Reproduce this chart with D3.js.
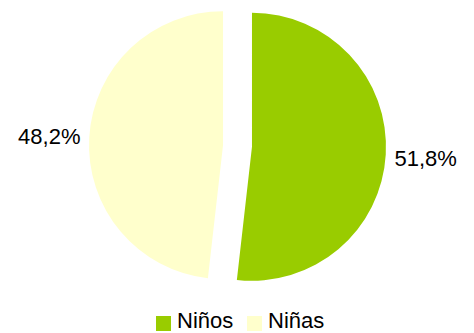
<!DOCTYPE html>
<html><head><meta charset="utf-8">
<script src="https://cdn.jsdelivr.net/npm/d3@7/dist/d3.min.js"></script>
<style>body{margin:0;background:#fff}svg{display:block}text{font-family:"Liberation Sans",Arial,sans-serif}</style>
</head><body>
<svg id="c" width="474" height="333"></svg>
<script>
const categories = ["Niños", "Niñas"];
const values = [51.8, 48.2];
const labels = ["51,8%", "48,2%"];
const colors = ["#99CC00", "#FFFFCC"];

const svg = d3.select("#c");
const cx = 237.5, cy = 146, r = 134, explode = 14.5;
const pie = d3.pie().sort(null).value(d => d.v);
const arcs = pie(categories.map((c, i) => ({c, v: values[i], i})));
const arc = d3.arc().innerRadius(0).outerRadius(r);
const g = svg.append("g").attr("transform", `translate(${cx},${cy})`);
arcs.forEach(a => {
  const mid = (a.startAngle + a.endAngle) / 2;
  const dx = explode * Math.sin(mid), dy = -explode * Math.cos(mid);
  const gg = g.append("g").attr("transform", `translate(${dx},${dy})`);
  gg.append("path").attr("d", arc(a)).attr("fill", colors[a.data.i]);
  const lr = r + 40;
  const lx = lr * Math.sin(mid), ly = -lr * Math.cos(mid);
  gg.append("text").attr("x", lx).attr("y", ly + 9)
    .attr("text-anchor", "middle").attr("font-size", 22).attr("fill", "#000")
    .text(labels[a.data.i]);
});

const legendX = [156, 247];
categories.forEach((c, i) => {
  svg.append("rect").attr("x", legendX[i]).attr("y", 316).attr("width", 15).attr("height", 15).attr("fill", colors[i]);
  svg.append("text").attr("x", legendX[i] + 21).attr("y", 327.5).attr("font-size", 22).attr("fill", "#000").text(c);
});
</script>
</body></html>
